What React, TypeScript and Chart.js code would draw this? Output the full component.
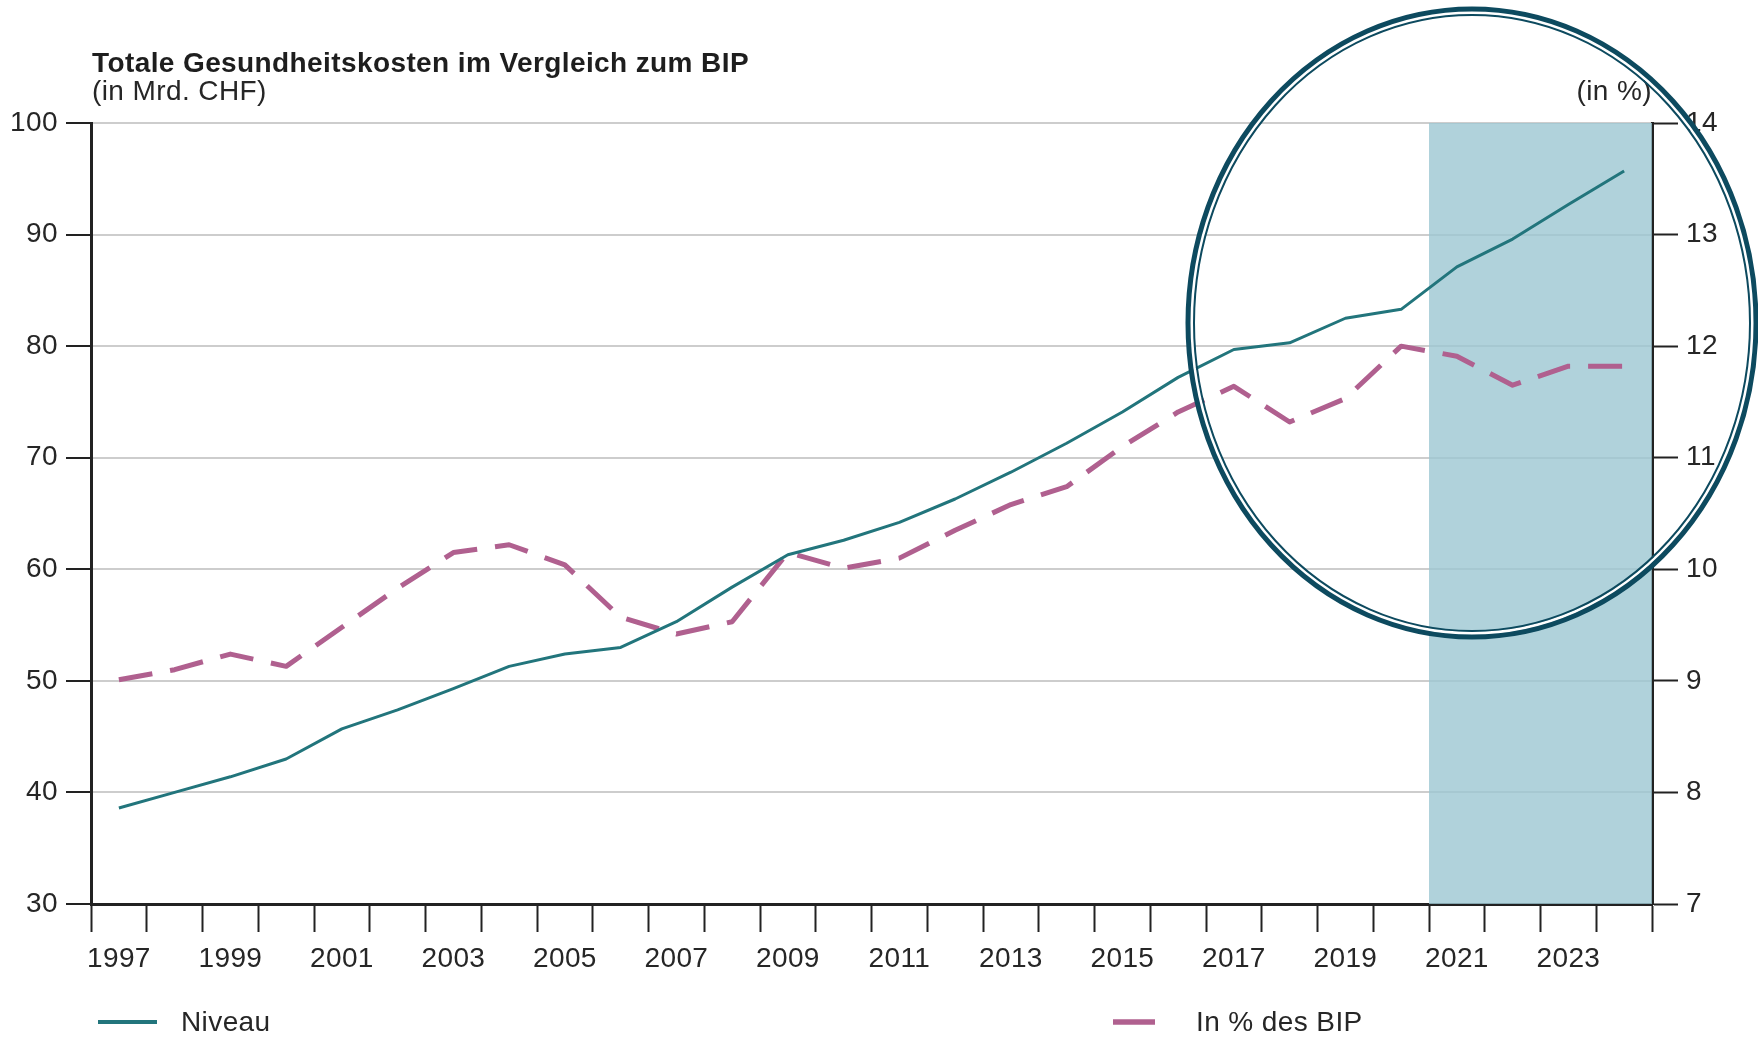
import { useEffect, useRef } from "react";
import { Chart, registerables } from "chart.js";

Chart.register(...registerables);

// ---- data ----
const years = [
  "1997", "1998", "1999", "2000", "2001", "2002", "2003", "2004", "2005", "2006",
  "2007", "2008", "2009", "2010", "2011", "2012", "2013", "2014", "2015", "2016",
  "2017", "2018", "2019", "2020", "2021", "2022", "2023", "2024",
];
// Totale Gesundheitskosten, in Mrd. CHF (left axis)
const niveau = [
  38.6, 40.0, 41.4, 43.0, 45.7, 47.4, 49.3, 51.3, 52.4, 53.0,
  55.3, 58.4, 61.3, 62.6, 64.2, 66.3, 68.7, 71.3, 74.1, 77.2,
  79.7, 80.3, 82.5, 83.3, 87.1, 89.6, 92.7, 95.7,
];
// In % des BIP (right axis)
const anteilBIP = [
  9.01, 9.1, 9.24, 9.13, 9.48, 9.83, 10.15, 10.22, 10.04, 9.57,
  9.42, 9.53, 10.15, 10.01, 10.1, 10.35, 10.58, 10.74, 11.1, 11.41,
  11.64, 11.32, 11.53, 12.0, 11.91, 11.65, 11.82, 11.82,
];
const forecastFrom = "2021";

const leftMin = 30;
const leftMax = 100;
const leftStep = 10;
const rightMin = 7;
const rightMax = 14;
const rightStep = 1;

const titleText = "Totale Gesundheitskosten im Vergleich zum BIP";
const leftUnit = "(in Mrd. CHF)";
const rightUnit = "(in %)";
const seriesNames = ["Niveau", "In % des BIP"];

// ---- styles ----
const FONT = "'Liberation Sans', Arial, Helvetica, sans-serif";
const TEAL = "#22757c";
const PINK = "#b0608f";
const AXIS = "#222222";
const TEXT = "#262626";
const GRID = "#cdcdcd";
const SHADE = "rgba(156,199,210,0.8)";
const RING = "#0d4a5f";
const SPACING = "0.4px";

const textSpacingPlugin = {
  id: "textSpacing",
  beforeDraw(chart: any) {
    try {
      (chart.ctx as any).letterSpacing = SPACING;
    } catch (e) {}
  },
};

const shadePlugin = {
  id: "forecastShade",
  beforeDatasetsDraw(chart: any) {
    const x = chart.scales.x;
    const { top, bottom, right } = chart.chartArea;
    const idx = years.indexOf(forecastFrom);
    const x0 = (x.getPixelForValue(idx - 1) + x.getPixelForValue(idx)) / 2;
    const ctx = chart.ctx;
    ctx.save();
    ctx.fillStyle = SHADE;
    ctx.fillRect(x0, top, right - x0, bottom - top);
    ctx.restore();
  },
};

const decorPlugin = {
  id: "decor",
  afterDraw(chart: any) {
    const ctx = chart.ctx;
    const area = chart.chartArea;
    ctx.save();
    try {
      (ctx as any).letterSpacing = SPACING;
    } catch (e) {}
    // title & units
    ctx.fillStyle = "#1e1e1e";
    ctx.textBaseline = "alphabetic";
    ctx.textAlign = "left";
    ctx.font = `bold 28px ${FONT}`;
    ctx.fillText(titleText, area.left + 1, 72);
    ctx.fillStyle = TEXT;
    ctx.font = `28px ${FONT}`;
    ctx.fillText(leftUnit, area.left + 1, 100);
    ctx.textAlign = "right";
    ctx.fillText(rightUnit, area.right, 100);

    // legend
    const ds = chart.data.datasets;
    const items = [
      { x: 98, len: 59, tx: 181, w: 4, ds: ds[1] },
      { x: 1113, len: 42, tx: 1196, w: 5.5, ds: ds[0] },
    ];
    const ly = 1022;
    items.forEach((it) => {
      ctx.save();
      ctx.strokeStyle = it.ds.borderColor;
      ctx.lineWidth = it.w;
      ctx.lineCap = "butt";
      ctx.setLineDash([]);
      ctx.beginPath();
      ctx.moveTo(it.x, ly);
      ctx.lineTo(it.x + it.len, ly);
      ctx.stroke();
      ctx.restore();
      ctx.fillStyle = TEXT;
      ctx.textAlign = "left";
      ctx.textBaseline = "middle";
      ctx.font = `28px ${FONT}`;
      ctx.fillText(it.ds.label, it.tx, ly + 1);
    });

    // highlight ellipse
    const cx = 1472;
    const cy = 323;
    const rx = 284;
    const ry = 314;
    ctx.beginPath();
    ctx.ellipse(cx, cy, rx - 3.5, ry - 3.5, 0, 0, Math.PI * 2);
    ctx.strokeStyle = "#ffffff";
    ctx.lineWidth = 3;
    ctx.stroke();
    ctx.beginPath();
    ctx.ellipse(cx, cy, rx, ry, 0, 0, Math.PI * 2);
    ctx.strokeStyle = RING;
    ctx.lineWidth = 5;
    ctx.stroke();
    ctx.beginPath();
    ctx.ellipse(cx, cy, rx - 6, ry - 6, 0, 0, Math.PI * 2);
    ctx.lineWidth = 2;
    ctx.stroke();
    ctx.restore();
  },
};

export default function App() {
  const ref = useRef<HTMLCanvasElement | null>(null);

  useEffect(() => {
    if (!ref.current) return;
    const tickFont = { family: FONT, size: 28 };
    const chart = new Chart(ref.current, {
      type: "line",
      data: {
        labels: years,
        datasets: [
          {
            label: seriesNames[1],
            data: anteilBIP,
            yAxisID: "y1",
            borderColor: PINK,
            borderWidth: 5,
            borderDash: [34, 18],
            borderCapStyle: "butt",
            borderJoinStyle: "round",
            pointRadius: 0,
            tension: 0,
            fill: false,
            order: 2,
          },
          {
            label: seriesNames[0],
            data: niveau,
            yAxisID: "y",
            borderColor: TEAL,
            borderWidth: 3,
            borderJoinStyle: "round",
            pointRadius: 0,
            tension: 0,
            fill: false,
            order: 1,
          },
        ],
      },
      options: {
        animation: false,
        responsive: false,
        devicePixelRatio: 1,
        layout: { padding: { top: 123, left: 0, right: 0, bottom: 0 } },
        plugins: {
          legend: { display: false },
          title: { display: false },
          tooltip: { enabled: false },
        },
        scales: {
          x: {
            type: "category",
            offset: true,
            grid: {
              offset: true,
              drawOnChartArea: false,
              drawTicks: true,
              tickLength: 28,
              tickColor: AXIS,
              tickWidth: 2,
            },
            border: { display: true, color: AXIS, width: 3 },
            ticks: {
              autoSkip: false,
              maxRotation: 0,
              minRotation: 0,
              padding: 10,
              color: TEXT,
              font: tickFont,
              callback: (_v: any, i: number) => (i % 2 === 0 ? years[i] : ""),
            },
            afterFit: (s: any) => {
              s.height = 134;
            },
          },
          y: {
            position: "left",
            min: leftMin,
            max: leftMax,
            grid: {
              color: GRID,
              lineWidth: 2,
              tickLength: 25,
              tickColor: AXIS,
              tickWidth: 2,
            },
            border: { display: true, color: AXIS, width: 3 },
            ticks: {
              stepSize: leftStep,
              padding: 8,
              color: TEXT,
              font: tickFont,
            },
            afterFit: (s: any) => {
              s.width = 91;
            },
          },
          y1: {
            position: "right",
            min: rightMin,
            max: rightMax,
            grid: {
              drawOnChartArea: false,
              tickLength: 26,
              tickColor: AXIS,
              tickWidth: 2,
            },
            border: { display: true, color: AXIS, width: 3 },
            ticks: {
              stepSize: rightStep,
              padding: 8,
              color: TEXT,
              font: tickFont,
            },
            afterFit: (s: any) => {
              s.width = 106;
            },
          },
        },
      } as any,
      plugins: [textSpacingPlugin, shadePlugin, decorPlugin],
    });
    return () => chart.destroy();
  }, []);

  return (
    <div
      style={{
        position: "fixed",
        left: 0,
        top: 0,
        width: 1758,
        height: 1038,
        background: "#ffffff",
      }}
    >
      <canvas
        ref={ref}
        width={1758}
        height={1038}
        style={{ display: "block", width: 1758, height: 1038 }}
      />
    </div>
  );
}
